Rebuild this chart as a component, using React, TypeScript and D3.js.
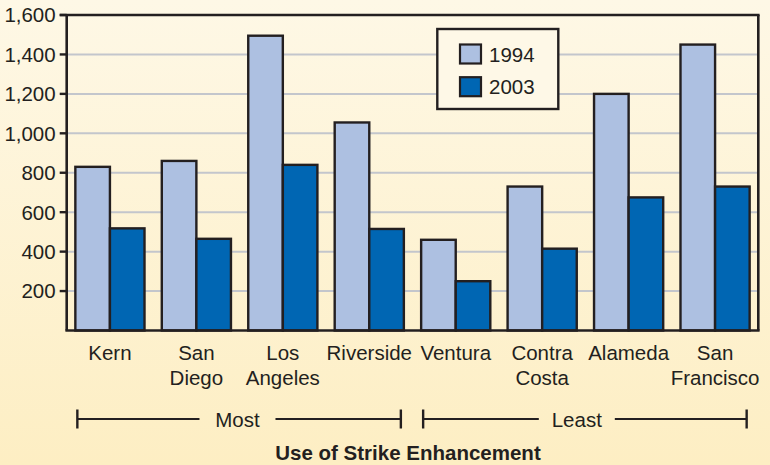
import React from "react";
import * as d3 from "d3";

const categories: string[][] = [
  ["Kern"],
  ["San", "Diego"],
  ["Los", "Angeles"],
  ["Riverside"],
  ["Ventura"],
  ["Contra", "Costa"],
  ["Alameda"],
  ["San", "Francisco"],
];
const series = ["1994", "2003"];
const values1994 = [830, 860, 1495, 1055, 460, 730, 1200, 1450];
const values2003 = [518, 465, 840, 515, 250, 415, 675, 730];
const yTicks = [200, 400, 600, 800, 1000, 1200, 1400, 1600];
const groups = [
  { label: "Most", from: 0, to: 3 },
  { label: "Least", from: 4, to: 7 },
];
const axisTitle = "Use of Strike Enhancement";

const W = 770;
const H = 465;
const left = 66.7;
const right = 758.3;
const top = 15;
const bottom = 330.5;
const colors = ["#adc0e1", "#0066b3"];
const font = "'Liberation Sans', Arial, Helvetica, sans-serif";
const FS = 20.5;

export default function App() {
  const keys = categories.map((c) => c.join(" "));
  const x = d3
    .scaleBand<string>()
    .domain(keys)
    .range([left, right])
    .paddingInner(0.2)
    .paddingOuter(0.1);
  const xs = d3.scaleBand<string>().domain(series).range([0, x.bandwidth()]);
  const y = d3.scaleLinear().domain([0, 1600]).range([bottom, top]);
  const data = [values1994, values2003];
  const labelPos = [0.495, 0.475];

  return (
    <svg
      width={W}
      height={H}
      style={{ position: "absolute", left: 0, top: 0, display: "block" }}
      fontFamily={font}
    >
      <defs>
        <linearGradient id="bg" x1="0" y1="0" x2="0" y2="1">
          <stop offset="0" stopColor="#fef8e6" />
          <stop offset="1" stopColor="#fdeec3" />
        </linearGradient>
      </defs>
      <rect x={0} y={0} width={W} height={H} fill="url(#bg)" />

      {yTicks
        .filter((t) => t < 1600)
        .map((t) => (
          <line
            key={"g" + t}
            x1={left}
            x2={right}
            y1={y(t)}
            y2={y(t)}
            stroke="#c3c6cc"
            strokeWidth={2}
          />
        ))}

      {keys.map((k, i) =>
        series.map((s, j) => (
          <rect
            key={k + s}
            x={(x(k) as number) + (xs(s) as number)}
            y={y(data[j][i])}
            width={xs.bandwidth()}
            height={bottom - y(data[j][i])}
            fill={colors[j]}
            stroke="#231f20"
            strokeWidth={2.4}
          />
        ))
      )}

      <line x1={left} x2={left} y1={top} y2={bottom} stroke="#231f20" strokeWidth={2.6} />
      <line x1={right} x2={right} y1={top} y2={bottom} stroke="#231f20" strokeWidth={2.6} />
      <line x1={left - 7} x2={right + 1.3} y1={top} y2={top} stroke="#231f20" strokeWidth={2.6} />
      <line x1={left - 1.3} x2={right + 1.3} y1={bottom} y2={bottom} stroke="#231f20" strokeWidth={2.6} />

      {yTicks.map((t) => (
        <g key={"t" + t}>
          <line x1={left - 7} x2={left} y1={y(t)} y2={y(t)} stroke="#231f20" strokeWidth={2.4} />
          <text
            x={left - 11}
            y={y(t)}
            dy="0.36em"
            textAnchor="end"
            fontSize={FS}
            fill="#231f20"
          >
            {d3.format(",")(t)}
          </text>
        </g>
      ))}

      {categories.map((c, i) => {
        const cx = (x(keys[i]) as number) + x.bandwidth() / 2;
        return (
          <text key={"c" + i} x={cx} y={360} textAnchor="middle" fontSize={FS} fill="#231f20">
            {c.map((line, li) => (
              <tspan key={li} x={cx} dy={li === 0 ? 0 : 24.5}>
                {line}
              </tspan>
            ))}
          </text>
        );
      })}

      {groups.map((g, gi) => {
        const x1 = (x(keys[g.from]) as number) + 2;
        const x2 = (x(keys[g.to]) as number) + x.bandwidth() - 3;
        const cx = x1 + (x2 - x1) * labelPos[gi];
        const ly = 419;
        const half = 38;
        return (
          <g key={g.label}>
            <line x1={x1} x2={cx - half} y1={ly} y2={ly} stroke="#231f20" strokeWidth={2.2} />
            <line x1={cx + half} x2={x2} y1={ly} y2={ly} stroke="#231f20" strokeWidth={2.2} />
            <line x1={x1} x2={x1} y1={ly - 9.5} y2={ly + 9.5} stroke="#231f20" strokeWidth={2.4} />
            <line x1={x2} x2={x2} y1={ly - 9.5} y2={ly + 9.5} stroke="#231f20" strokeWidth={2.4} />
            <text x={cx} y={426.7} textAnchor="middle" fontSize={FS} fill="#231f20">
              {g.label}
            </text>
          </g>
        );
      })}

      <text x={408} y={460} textAnchor="middle" fontSize={FS} fontWeight="bold" fill="#231f20">
        {axisTitle}
      </text>

      <rect x={437.3} y={29} width={121} height={80} fill="#fef8e7" stroke="#231f20" strokeWidth={2.4} />
      {series.map((s, j) => (
        <g key={"l" + s}>
          <rect
            x={460}
            y={44.5 + j * 32.7}
            width={21}
            height={19}
            fill={colors[j]}
            stroke="#231f20"
            strokeWidth={2.2}
          />
          <text x={489} y={62.3 + j * 31.5} fontSize={FS} fill="#231f20">
            {s}
          </text>
        </g>
      ))}
    </svg>
  );
}
